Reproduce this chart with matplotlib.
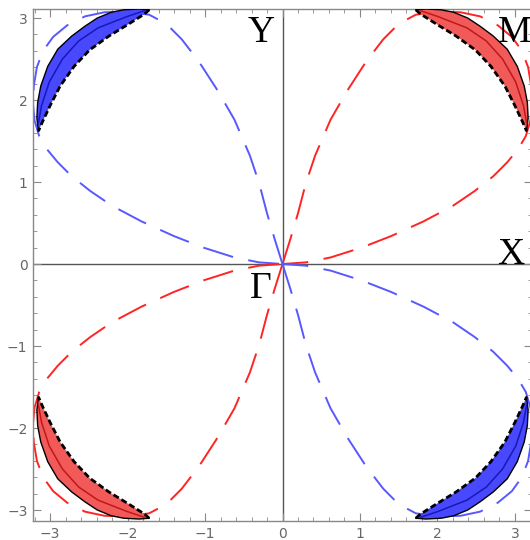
import numpy as np
import matplotlib
matplotlib.use("Agg")
import matplotlib.pyplot as plt
from matplotlib.ticker import MultipleLocator

# dashed lobe in the first quadrant (kx, ky);
# the other three lobes are its mirror images
lobe_kx = [0.0, 0.1, 0.2, 0.3, 0.42, 0.62, 0.84, 1.08, 1.3, 1.5, 1.72, 2.0,
           2.3, 2.55, 2.78, 2.96, 3.09, 3.17, 3.21, 3.22, 3.2, 3.14, 3.04,
           2.9, 2.72, 2.48, 2.2, 1.82, 1.4, 1.02, 0.62, 0.3, 0.0]
lobe_ky = [0.0, 0.3, 0.62, 0.98, 1.32, 1.76, 2.12, 2.47, 2.74, 2.93, 3.04, 3.08,
           3.07, 3.02, 2.91, 2.77, 2.6, 2.4, 2.17, 1.95, 1.75, 1.56, 1.4,
           1.24, 1.07, 0.89, 0.71, 0.52, 0.34, 0.2, 0.08, 0.02, 0.0]

# filled pocket near M in the first quadrant
band_outer_kx = [1.72, 1.85, 2.05, 2.21, 2.39, 2.55, 2.72, 2.9, 3.03, 3.12,
                 3.16, 3.17, 3.15]
band_outer_ky = [3.1, 3.11, 3.1, 3.07, 3.0, 2.9, 2.78, 2.62, 2.41, 2.17,
                 1.97, 1.78, 1.62]
band_inner_kx = [1.72, 1.78, 1.98, 2.24, 2.49, 2.69, 2.87, 3.0, 3.1, 3.15]
band_inner_ky = [3.1, 3.05, 2.93, 2.78, 2.61, 2.41, 2.17, 1.93, 1.73, 1.62]
band_mid_kx = [1.78, 2.0, 2.38, 2.63, 2.84, 3.01, 3.11, 3.15]
band_mid_ky = [3.09, 3.02, 2.88, 2.72, 2.5, 2.22, 1.93, 1.72]

# high-symmetry point labels: text, kx, baseline ky
point_names = ["Y", "M", "X", "Γ"]
point_kx = [-0.28, 2.99, 2.94, -0.28]
point_ky = [2.71, 2.71, 0.0, -0.41]

# quadrant -> (sign kx, sign ky, colour family)
quadrants = [(1, 1, "red"), (-1, 1, "blue"), (-1, -1, "red"), (1, -1, "blue")]
dash_col = {"red": "#ff2424", "blue": "#5858ff"}
fill_col = {"red": "#f25a5a", "blue": "#4848ff"}
line_col = {"red": "#c01818", "blue": "#1818b8"}

fig = plt.figure(figsize=(5.3, 5.4), dpi=100)
ax = fig.add_axes([33 / 530, 19 / 540, 499 / 530, 512 / 540])

ax.axhline(0, color="#555555", lw=1.0, zorder=1)
ax.axvline(0, color="#555555", lw=1.0, zorder=1)

for sx, sy, fam in quadrants:
    lx = sx * np.array(lobe_kx)
    ly = sy * np.array(lobe_ky)
    ax.plot(lx, ly, color=dash_col[fam], lw=1.4, ls=(0, (16, 8)), zorder=2)

    ox, oy = sx * np.array(band_outer_kx), sy * np.array(band_outer_ky)
    ix, iy = sx * np.array(band_inner_kx), sy * np.array(band_inner_ky)
    ax.fill(np.r_[ox, ix[::-1]], np.r_[oy, iy[::-1]],
            color=fill_col[fam], lw=0, zorder=3)
    ax.plot(ox, oy, color="black", lw=1.0, zorder=4)
    ax.plot(ix, iy, color="black", lw=2.0, ls=(0, (2.2, 1.1)), zorder=4)
    ax.plot(sx * np.array(band_mid_kx), sy * np.array(band_mid_ky),
            color=line_col[fam], lw=1.1, zorder=4)

for name, kx, ky in zip(point_names, point_kx, point_ky):
    ax.text(kx, ky, name, family="Liberation Serif", fontsize=27,
            ha="center", va="baseline", zorder=5)

ax.set_xlim(-3.22, 3.22)
ax.set_ylim(-3.134, 3.11)
ax.xaxis.set_major_locator(MultipleLocator(1))
ax.yaxis.set_major_locator(MultipleLocator(1))
ax.xaxis.set_minor_locator(MultipleLocator(0.2))
ax.yaxis.set_minor_locator(MultipleLocator(0.2))
ax.tick_params(which="both", direction="in", top=True, right=True,
               color="#888888", labelcolor="#666666", labelsize=10, pad=4)
ax.tick_params(which="major", length=6)
ax.tick_params(which="minor", length=3)
for sp in ax.spines.values():
    sp.set_color("#888888")
    sp.set_linewidth(1.0)

fig.savefig("out.png", dpi=100)
